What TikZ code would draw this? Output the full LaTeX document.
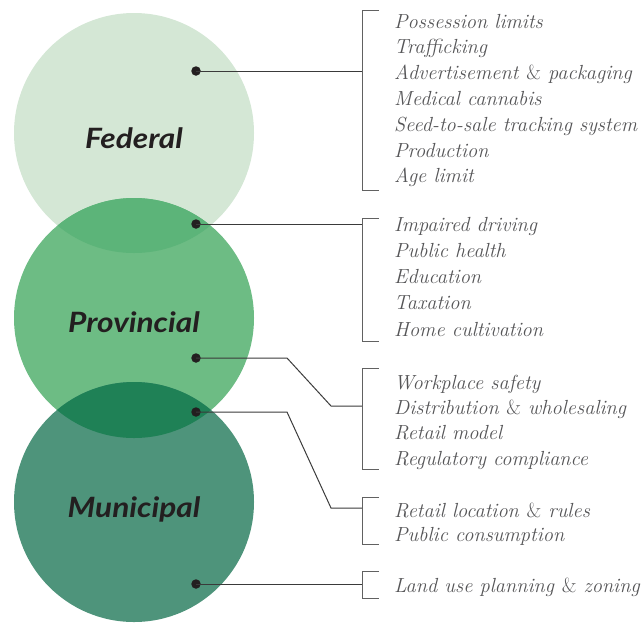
\documentclass[tikz,border=0pt]{standalone}
\usepackage{fontspec}
\newfontfamily\labelfont{Lato}[FakeStretch=1.13]
\definecolor{fedc}{HTML}{D4E7D5}
\definecolor{provc}{HTML}{6DBC84}
\definecolor{fpc}{HTML}{5CB479}
\definecolor{munc}{HTML}{4E947B}
\definecolor{pmc}{HTML}{1F8156}
\definecolor{dotc}{HTML}{231F20}
\definecolor{txtc}{HTML}{555557}
\definecolor{linec}{HTML}{3A3A3A}
\newcommand{\amp}{\textup{\&}}
\tikzset{
  dot/.style={circle,fill=dotc,inner sep=0pt,minimum size=9.5pt},
  lvl/.style={font=\labelfont\bfseries\itshape\fontsize{28}{30}\selectfont,text=dotc,anchor=base,inner sep=0pt},
  item/.style={font=\itshape\fontsize{20.4}{22}\selectfont,text=txtc,anchor=base west,inner sep=0pt},
  conn/.style={draw=linec,line width=1pt},
  brk/.style={draw=linec!80,line width=1pt}
}
\begin{document}
\begin{tikzpicture}[x=1pt,y=-1pt]
\useasboundingbox (0,0) rectangle (642,622);
% circles
\fill[fedc] (134,133) circle[radius=120];
\fill[provc] (134,318) circle[radius=120];
\begin{scope}
  \clip (134,133) circle[radius=120];
  \fill[fpc] (134,318) circle[radius=120];
\end{scope}
\fill[munc] (134,502) circle[radius=120];
\begin{scope}
  \clip (134,318) circle[radius=120];
  \fill[pmc] (134,502) circle[radius=120];
\end{scope}
% labels
\node[lvl] (lf) at (134,148) {Federal};
\node[lvl] (lp) at (134,332) {Provincial};
\node[lvl] (lm) at (134,517) {Municipal};
% dots
\node[dot] (d1) at (196,71) {};
\node[dot] (d2) at (196,224) {};
\node[dot] (d3) at (196,358) {};
\node[dot] (d4) at (196,412) {};
\node[dot] (d5) at (196,584) {};
% bracket joints
\coordinate (b1) at (362,71);
\coordinate (b2) at (362,224);
\coordinate (k3a) at (287,358);
\coordinate (k3b) at (331,406);
\coordinate (b3) at (362,406);
\coordinate (k4a) at (287,412);
\coordinate (k4b) at (331,508);
\coordinate (b4) at (362,508);
\coordinate (b5) at (362,584);
% connectors
\draw[conn] (d1.center) -- (b1);
\draw[conn] (d2.center) -- (b2);
\draw[conn] (d3.center) -- (k3a) -- (k3b) -- (b3);
\draw[conn] (d4.center) -- (k4a) -- (k4b) -- (b4);
\draw[conn] (d5.center) -- (b5);
% brackets
\draw[brk] (379,10) -- (362,10) -- (362,190) -- (379,190);
\draw[brk] (379,218) -- (362,218) -- (362,341) -- (379,341);
\draw[brk] (379,368) -- (362,368) -- (362,469) -- (379,469);
\draw[brk] (379,497) -- (362,497) -- (362,544) -- (379,544);
\draw[brk] (379,571) -- (362,571) -- (362,598) -- (379,598);
% items
\foreach \t [count=\i from 0] in {Possession limits,Trafficking,Advertisement \amp{} packaging,Medical cannabis,Seed-to-sale tracking system,Production,Age limit}
  \node[item] (f\i) at (394,{28+25.8*\i}) {\t};
\foreach \t [count=\i from 0] in {Impaired driving,Public health,Education,Taxation,Home cultivation}
  \node[item] (p\i) at (394,{231+26.25*\i}) {\t};
\foreach \t [count=\i from 0] in {Workplace safety,Distribution \amp{} wholesaling,Retail model,Regulatory compliance}
  \node[item] (s\i) at (394,{389+25.4*\i}) {\t};
\foreach \t [count=\i from 0] in {Retail location \amp{} rules,Public consumption}
  \node[item] (m\i) at (394,{517+24.5*\i}) {\t};
\node[item] (z0) at (394,592) {Land use planning \amp{} zoning};
\end{tikzpicture}
\end{document}
